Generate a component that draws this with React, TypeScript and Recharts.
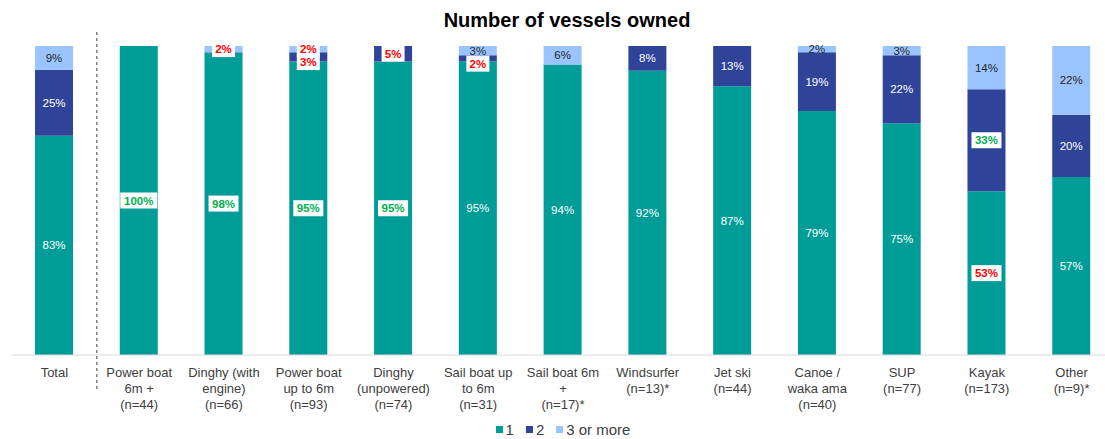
import { BarChart, Bar, XAxis, YAxis, LabelList, Legend, ReferenceLine } from "recharts"

const categories = [
  "Total",
  "Power boat\n6m +\n(n=44)",
  "Dinghy (with\nengine)\n(n=66)",
  "Power boat\nup to 6m\n(n=93)",
  "Dinghy\n(unpowered)\n(n=74)",
  "Sail boat up\nto 6m\n(n=31)",
  "Sail boat 6m\n+\n(n=17)*",
  "Windsurfer\n(n=13)*",
  "Jet ski\n(n=44)",
  "Canoe /\nwaka ama\n(n=40)",
  "SUP\n(n=77)",
  "Kayak\n(n=173)",
  "Other\n(n=9)*",
]

const one = [83, 100, 98, 95, 95, 95, 94, 92, 87, 79, 75, 53, 57]
const two = [25, 0, 0, 3, 5, 2, 0, 8, 13, 19, 22, 33, 20]
const threePlus = [9, 0, 2, 2, 0, 3, 6, 0, 0, 2, 3, 14, 22]

// significance vs total: "hi" = significantly higher, "lo" = significantly lower
const sigOne = ["", "hi", "hi", "hi", "hi", "", "", "", "", "", "", "lo", ""]
const sigTwo = ["", "", "", "lo", "lo", "lo", "", "", "", "", "", "hi", ""]
const sigThree = ["", "", "lo", "lo", "", "", "", "", "", "", "", "", ""]

const seriesNames = ["1", "2", "3 or more"]

const TEAL = "#009C98"
const NAVY = "#2F4499"
const SKY = "#9AC4FF"
const FONT = "'Liberation Sans', Arial, sans-serif"

const data = categories.map((name, i) => ({
  idx: i,
  name,
  one: one[i],
  two: two[i],
  three: threePlus[i],
}))

// LabelList is fed the row index (dataKey "idx"), since empty segments are skipped
function makeLabel(raw: number[], above: number[] | null, sig: string[], color: string) {
  return (props: any) => {
    const vb = props.viewBox ?? props
    const { x, y, width, height } = vb
    const index = Number(props.value)
    const v = raw[index]
    if (!v) return null
    const cx = x + width / 2
    let cy = y + height / 2
    // keep labels of thin segments from sitting on top of the one above
    if (above && above[index] && height > 0) {
      const pxPerUnit = height / v
      const aboveCenter = y - (above[index] * pxPerUnit) / 2
      if (cy - aboveCenter < 13) cy = aboveCenter + 13
    }
    const text = `${v}%`
    const s = sig[index]
    if (s) {
      const w = Math.min(text.length * 7 + 9, width)
      return (
        <g>
          <rect x={cx - w / 2} y={cy - 8} width={w} height={16} fill="#fff" />
          <text
            x={cx}
            y={cy}
            textAnchor="middle"
            dominantBaseline="central"
            fontSize={11.5}
            fontWeight="bold"
            fontFamily={FONT}
            fill={s === "hi" ? "#00B050" : "#FF0000"}
          >
            {text}
          </text>
        </g>
      )
    }
    return (
      <text
        x={cx}
        y={cy}
        textAnchor="middle"
        dominantBaseline="central"
        fontSize={11.5}
        fontFamily={FONT}
        fill={color}
      >
        {text}
      </text>
    )
  }
}

function CategoryTick({ x, y, payload }: any) {
  const lines = String(payload.value).split("\n")
  return (
    <text x={x} y={y + 14} textAnchor="middle" fill="#404040" fontSize={13} fontFamily={FONT}>
      {lines.map((l, i) => (
        <tspan key={i} x={x} dy={i === 0 ? 0 : 16}>
          {l}
        </tspan>
      ))}
    </text>
  )
}

function LegendContent() {
  const colors = [TEAL, NAVY, SKY]
  return (
    <div
      style={{
        display: "flex",
        justifyContent: "center",
        gap: 12,
        fontSize: 15,
        fontFamily: FONT,
        color: "#404040",
        lineHeight: "17px",
      }}
    >
      {seriesNames.map((n, i) => (
        <span key={n} style={{ display: "flex", alignItems: "center" }}>
          <span
            style={{ width: 7, height: 7, background: colors[i], marginRight: 3, display: "inline-block" }}
          />
          {n}
        </span>
      ))}
    </div>
  )
}

export default function App() {
  return (
    <div
      style={{
        position: "absolute",
        left: 0,
        top: 0,
        width: 1105,
        height: 439,
        overflow: "hidden",
        background: "#fff",
      }}
    >
      <div
        style={{
          position: "absolute",
          top: 9,
          left: 12,
          width: 1110,
          textAlign: "center",
          fontFamily: FONT,
          fontWeight: "bold",
          fontSize: 20,
          color: "#000",
          zIndex: 1,
        }}
      >
        Number of vessels owned
      </div>
      <BarChart
        width={1116}
        height={439}
        data={data}
        stackOffset="expand"
        barSize={38}
        margin={{ top: 46, right: 2, left: 12, bottom: 1 }}
      >
        <XAxis
          dataKey="name"
          interval={0}
          tick={<CategoryTick />}
          tickLine={false}
          axisLine={{ stroke: "#D9D9D9" }}
          height={66}
        />
        <YAxis hide domain={[0, 1]} />
        <ReferenceLine
          x="Total"
          position="end"
          ifOverflow="visible"
          shape={(p: any) => (
            <line
              x1={p.x1}
              x2={p.x2}
              y1={Math.min(p.y1, p.y2) - 14}
              y2={Math.max(p.y1, p.y2) + 37}
              stroke="#808080"
              strokeWidth={1.5}
              strokeDasharray="3 3"
            />
          )}
        />
        <Bar dataKey="one" name={seriesNames[0]} stackId="a" fill={TEAL} isAnimationActive={false}>
          <LabelList dataKey="idx" content={makeLabel(one, two, sigOne, "#fff")} />
        </Bar>
        <Bar dataKey="two" name={seriesNames[1]} stackId="a" fill={NAVY} isAnimationActive={false}>
          <LabelList dataKey="idx" content={makeLabel(two, threePlus, sigTwo, "#fff")} />
        </Bar>
        <Bar dataKey="three" name={seriesNames[2]} stackId="a" fill={SKY} isAnimationActive={false}>
          <LabelList dataKey="idx" content={makeLabel(threePlus, null, sigThree, "#262626")} />
        </Bar>
        <Legend verticalAlign="bottom" content={<LegendContent />} />
      </BarChart>
    </div>
  )
}
